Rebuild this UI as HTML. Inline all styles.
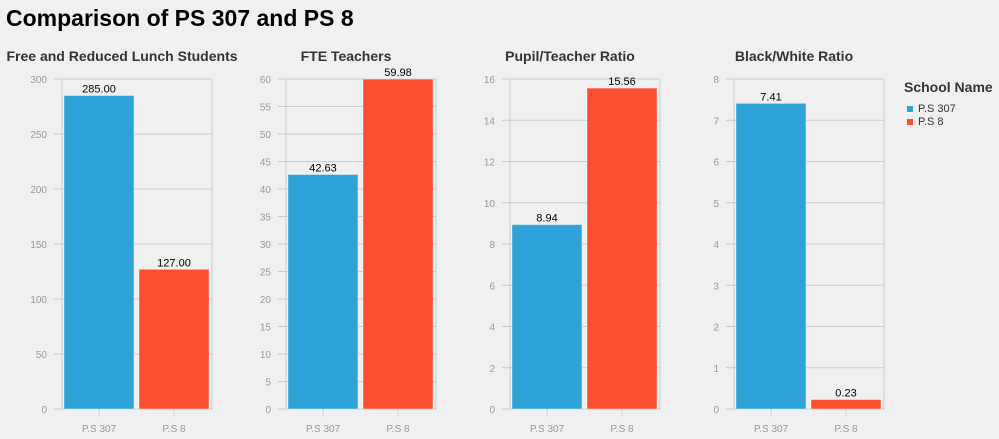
<!DOCTYPE html>
<html><head><meta charset="utf-8"><style>
body{margin:0;background:#f0f0f0;font-family:"Liberation Sans",Arial,sans-serif;}
svg{display:block}
</style></head><body>
<svg id="chart" width="999" height="439" viewBox="0 0 999 439">
<rect width="999" height="439" fill="#f0f0f0"/>
<text x="6" y="26" font-size="23" font-weight="bold" fill="#000">Comparison of PS 307 and PS 8</text>
<g>
<text x="904" y="92" font-size="14" font-weight="bold" fill="#333">School Name</text>
<rect x="907" y="106" width="6" height="6" fill="#30a2da"/>
<text x="918" y="112" font-size="11" fill="#333">P.S 307</text>
<rect x="907" y="119" width="6" height="6" fill="#fc4f30"/>
<text x="918" y="125" font-size="11" fill="#333">P.S 8</text>
</g>
</svg>
<script>
const categories = ["P.S 307", "P.S 8"];
const panelTitles = ["Free and Reduced Lunch Students", "FTE Teachers", "Pupil/Teacher Ratio", "Black/White Ratio"];
const lunchValues = [285.00, 127.00];
const fteValues = [42.63, 59.98];
const ratioValues = [8.94, 15.56];
const bwValues = [7.41, 0.23];
const lunchTicks = [0, 50, 100, 150, 200, 250, 300];
const fteTicks = [0, 5, 10, 15, 20, 25, 30, 35, 40, 45, 50, 55, 60];
const ratioTicks = [0, 2, 4, 6, 8, 10, 12, 14, 16];
const bwTicks = [0, 1, 2, 3, 4, 5, 6, 7, 8];
const colors = ["#30a2da", "#fc4f30"];
const panels = [[lunchValues, lunchTicks], [fteValues, fteTicks], [ratioValues, ratioTicks], [bwValues, bwTicks]];
const svg = document.getElementById('chart');
const NS = "http://www.w3.org/2000/svg";
function mk(tag, attrs, parent) {
  const e = document.createElementNS(NS, tag);
  for (const k in attrs) e.setAttribute(k, attrs[k]);
  parent.appendChild(e);
  return e;
}
const plotTop = 79, plotBottom = 409, pw = 150;
panels.forEach((p, i) => {
  const vals = p[0], ticks = p[1];
  const x0 = 62 + i * 224;
  const maxT = ticks[ticks.length - 1];
  const y = v => plotBottom - v / maxT * (plotBottom - plotTop);
  const g = mk('g', {}, svg);
  
  
  const t = mk('text', {x: x0 + pw / 2 - 15, y: 61, 'font-size': 14, 'font-weight': 'bold', fill: '#333', 'text-anchor': 'middle'}, g);
  t.textContent = panelTitles[i];
  
  
  ticks.forEach(tv => {
    const yy = y(tv);
    const gl = mk('line', {x1: x0 - 8, x2: x0 + pw, y1: yy, y2: yy, stroke: '#cbcbcb', 'stroke-width': 1}, g);
    
    
    const tl = mk('text', {x: x0 - 15, y: yy + 4, 'font-size': 10, fill: '#999', 'text-anchor': 'end'}, g);
    tl.textContent = tv;
    
    
  });
  const ax = mk('line', {x1: x0, x2: x0, y1: plotTop, y2: plotBottom, stroke: '#cbcbcb'}, g);
  
  
  const ax2 = mk('line', {x1: x0 + pw, x2: x0 + pw, y1: plotTop, y2: plotBottom, stroke: '#cbcbcb'}, g);
  
  
  vals.forEach((v, j) => {
    const bx = x0 + 2 + j * 75, bw = 70;
    const r = mk('rect', {x: bx, y: y(v), width: bw, height: plotBottom - y(v), fill: colors[j], stroke: 'rgba(255,255,255,0.4)', 'stroke-width': 1}, g);
    
    
    const vl = mk('text', {x: bx + bw / 2, y: y(v) - 3, 'font-size': 11, fill: '#000', 'text-anchor': 'middle'}, g);
    vl.textContent = v.toFixed(2);
    
    
    const tk = mk('line', {x1: bx + bw / 2, x2: bx + bw / 2, y1: plotBottom, y2: plotBottom + 8, stroke: '#cbcbcb'}, g);
    
    
    const xl = mk('text', {x: bx + bw / 2, y: 432, 'font-size': 10, fill: '#999', 'text-anchor': 'middle'}, g);
    xl.textContent = categories[j];
    
    
  });
});
</script>
</body></html>
